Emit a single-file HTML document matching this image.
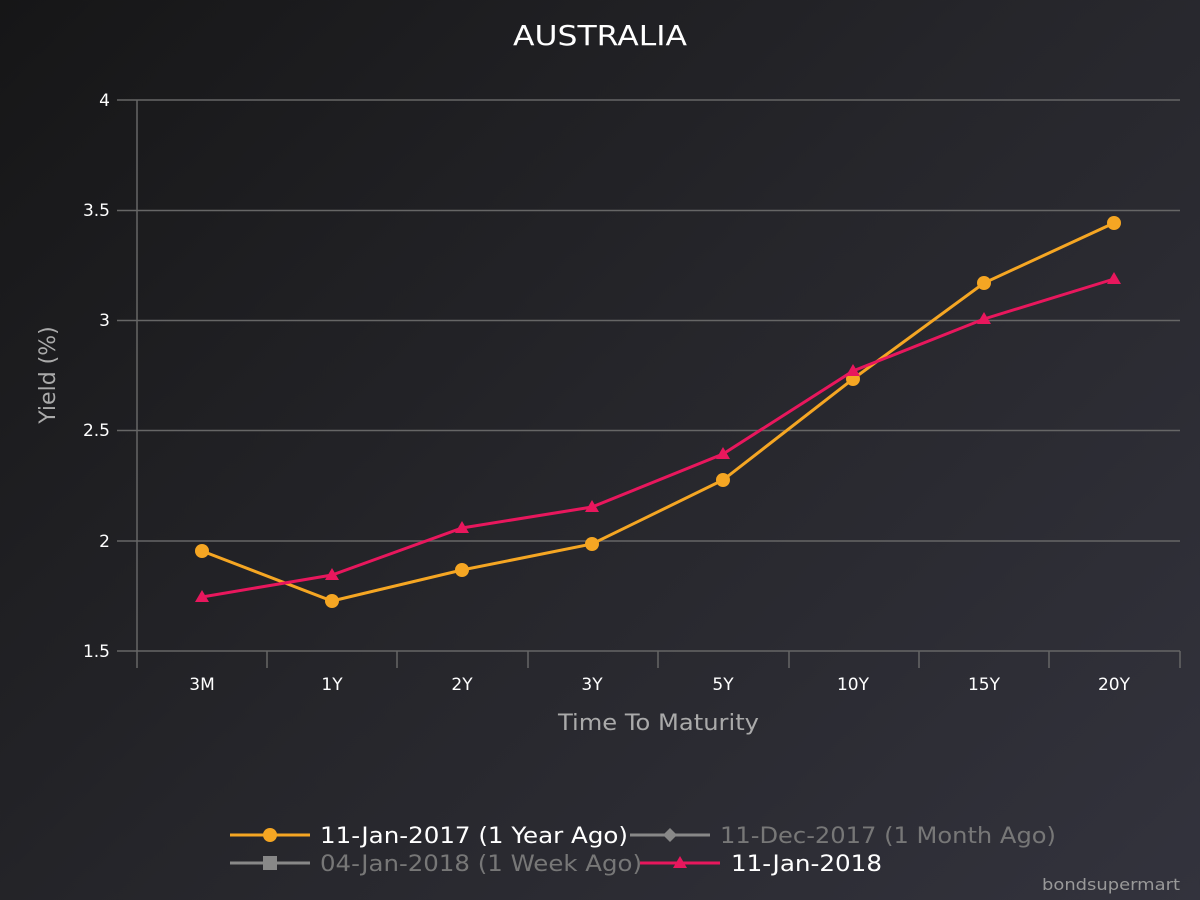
<!DOCTYPE html>
<html><head><meta charset="utf-8"><style>
html,body{margin:0;padding:0;width:1200px;height:900px;overflow:hidden}
body{background:linear-gradient(135deg,#161617 0%,#26262b 50%,#33333d 100%)}
text{font-family:"DejaVu Sans","Liberation Sans",sans-serif}
</style></head><body>
<svg width="1200" height="900" xmlns="http://www.w3.org/2000/svg">
<text x="513" y="45" fill="#fff" font-size="28" textLength="174" lengthAdjust="spacingAndGlyphs">AUSTRALIA</text>
<g stroke="#666" stroke-width="1.5">
<line x1="137" y1="100" x2="1180" y2="100"/>
<line x1="137" y1="210.5" x2="1180" y2="210.5"/>
<line x1="137" y1="320.5" x2="1180" y2="320.5"/>
<line x1="137" y1="430.5" x2="1180" y2="430.5"/>
<line x1="137" y1="541" x2="1180" y2="541"/>
<line x1="137" y1="651" x2="1180" y2="651"/>
<line x1="137" y1="100" x2="137" y2="651"/>
<line x1="117" y1="100" x2="137" y2="100"/><line x1="117" y1="210.5" x2="137" y2="210.5"/><line x1="117" y1="320.5" x2="137" y2="320.5"/><line x1="117" y1="430.5" x2="137" y2="430.5"/><line x1="117" y1="541" x2="137" y2="541"/><line x1="117" y1="651" x2="137" y2="651"/>
<line x1="137" y1="651" x2="137" y2="668"/><line x1="267" y1="651" x2="267" y2="668"/><line x1="397" y1="651" x2="397" y2="668"/><line x1="528" y1="651" x2="528" y2="668"/><line x1="658" y1="651" x2="658" y2="668"/><line x1="789" y1="651" x2="789" y2="668"/><line x1="919" y1="651" x2="919" y2="668"/><line x1="1049" y1="651" x2="1049" y2="668"/><line x1="1180" y1="651" x2="1180" y2="668"/>
</g>
<g fill="#fff" font-size="17" text-anchor="end">
<text x="110" y="106">4</text><text x="110" y="216">3.5</text><text x="110" y="326">3</text><text x="110" y="436">2.5</text><text x="110" y="547">2</text><text x="110" y="657">1.5</text>
</g>
<g fill="#fff" font-size="17" text-anchor="middle">
<text x="202" y="690">3M</text><text x="332" y="690">1Y</text><text x="462" y="690">2Y</text><text x="592" y="690">3Y</text><text x="723" y="690">5Y</text><text x="853" y="690">10Y</text><text x="984" y="690">15Y</text><text x="1114" y="690">20Y</text>
</g>
<text x="558" y="730" fill="#aaa" font-size="22" textLength="201" lengthAdjust="spacingAndGlyphs">Time To Maturity</text>
<text transform="translate(55,375) rotate(-90)" fill="#aaa" font-size="22" text-anchor="middle">Yield (%)</text>
<polyline fill="none" stroke="#f5a623" stroke-width="3" points="202,551 332,601 462,570 592,544 723,480 853,379 984,283 1114,223"/>
<g fill="#f5a623">
<circle cx="202" cy="551" r="7"/><circle cx="332" cy="601" r="7"/><circle cx="462" cy="570" r="7"/><circle cx="592" cy="544" r="7"/><circle cx="723" cy="480" r="7"/><circle cx="853" cy="379" r="7"/><circle cx="984" cy="283" r="7"/><circle cx="1114" cy="223" r="7"/>
</g>
<polyline fill="none" stroke="#e8175d" stroke-width="3" points="202,597 332,575 462,528 592,507 723,454 853,371 984,319 1114,279"/>
<g fill="#e8175d">
<path d="M202,590 l7,12 h-14z"/><path d="M332,568 l7,12 h-14z"/><path d="M462,521 l7,12 h-14z"/><path d="M592,500 l7,12 h-14z"/><path d="M723,447 l7,12 h-14z"/><path d="M853,364 l7,12 h-14z"/><path d="M984,312 l7,12 h-14z"/><path d="M1114,272 l7,12 h-14z"/>
</g>
<g font-size="22">
<line x1="230" y1="835" x2="310" y2="835" stroke="#f5a623" stroke-width="3"/><circle cx="270" cy="835" r="7" fill="#f5a623"/>
<text x="320" y="843" fill="#fff" textLength="308" lengthAdjust="spacingAndGlyphs">11-Jan-2017 (1 Year Ago)</text>
<line x1="630" y1="835" x2="710" y2="835" stroke="#888" stroke-width="3"/><path d="M670,828 l7,7 -7,7 -7,-7z" fill="#888"/>
<text x="720" y="843" fill="#777" textLength="336" lengthAdjust="spacingAndGlyphs">11-Dec-2017 (1 Month Ago)</text>
<line x1="230" y1="863" x2="310" y2="863" stroke="#888" stroke-width="3"/><rect x="263" y="856" width="14" height="14" fill="#888"/>
<text x="320" y="871" fill="#777" textLength="322" lengthAdjust="spacingAndGlyphs">04-Jan-2018 (1 Week Ago)</text>
<line x1="640" y1="863" x2="720" y2="863" stroke="#e8175d" stroke-width="3"/><path d="M680,856 l7,12 h-14z" fill="#e8175d"/>
<text x="731" y="871" fill="#fff" textLength="151" lengthAdjust="spacingAndGlyphs">11-Jan-2018</text>
</g>
<text x="1042" y="890" fill="#999" font-size="16" textLength="138" lengthAdjust="spacingAndGlyphs">bondsupermart</text>
</svg>
</body></html>
